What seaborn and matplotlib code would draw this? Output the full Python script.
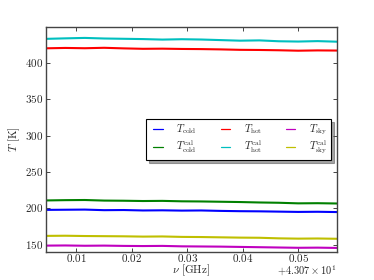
# -*- coding: utf-8 -*-
"""
Calibrated vs measured temperatures across the frequency band
"""

import numpy as np
import pandas as pd
import matplotlib
matplotlib.use("Agg")
import matplotlib.pyplot as plt
import seaborn as sns

# Frequency samples (GHz)
freq_ghz = [43.0745, 43.0780, 43.0815, 43.0850, 43.0885, 43.0920, 43.0955, 43.0990,
            43.1025, 43.1060, 43.1095, 43.1130, 43.1165, 43.1200, 43.1235, 43.1270]

# Temperatures (K)
t_cold = [198.0, 198.2, 198.4, 197.6, 197.8, 197.2, 197.4, 197.0,
          197.2, 196.6, 196.2, 196.0, 195.6, 195.2, 195.4, 195.0]
t_cold_cal = [211.0, 211.4, 211.6, 210.8, 210.6, 210.2, 210.4, 209.8,
              209.6, 209.2, 208.8, 208.2, 207.8, 207.0, 207.2, 206.8]
t_hot = [420.5, 421.0, 420.6, 421.2, 420.4, 419.8, 420.0, 419.6,
         419.4, 419.0, 418.4, 418.2, 417.8, 417.2, 417.6, 417.4]
t_hot_cal = [433.5, 434.2, 434.8, 434.0, 433.6, 433.2, 432.5, 433.0,
             432.6, 431.8, 431.0, 431.4, 430.2, 429.8, 430.4, 429.6]
t_sky = [148.8, 149.0, 148.6, 148.8, 148.4, 148.2, 148.4, 147.8,
         147.6, 147.4, 147.0, 146.6, 146.2, 145.8, 146.0, 145.6]
t_sky_cal = [162.2, 162.4, 162.0, 161.8, 161.6, 161.2, 161.4, 160.8,
             160.6, 160.2, 159.8, 159.6, 158.8, 158.4, 158.6, 158.2]

series_labels = [r"$T_{\rm cold}$", r"$T^{\rm cal}_{\rm cold}$",
                 r"$T_{\rm hot}$", r"$T^{\rm cal}_{\rm hot}$",
                 r"$T_{\rm sky}$", r"$T^{\rm cal}_{\rm sky}$"]
series_values = [t_cold, t_cold_cal, t_hot, t_hot_cal, t_sky, t_sky_cal]
series_colors = ["b", "g", "r", "c", "m", "y"]

freq_offset = 43.07

# Style: old-school matplotlib look with Computer Modern text
plt.style.use("classic")
sns.set_style("ticks", {"xtick.direction": "in", "ytick.direction": "in"})
plt.rcParams["font.family"] = ["serif"]
plt.rcParams["font.serif"] = ["cmr10", "DejaVu Serif"]
plt.rcParams["mathtext.fontset"] = "cm"
plt.rcParams["axes.formatter.use_mathtext"] = True
plt.rcParams["axes.unicode_minus"] = False
plt.rcParams["font.size"] = 8

fig, ax = plt.subplots(figsize=(3.74, 2.8), dpi=100)
fig.patch.set_facecolor("white")
fig.subplots_adjust(left=0.123, right=0.901, bottom=0.10, top=0.904)

for label, vals, col in zip(series_labels, series_values, series_colors):
    df = pd.DataFrame({"freq": freq_ghz, "temp": vals})
    sns.lineplot(data=df, x="freq", y="temp", color=col, lw=1.5, label=label, ax=ax)

ax.set_xlim(freq_ghz[0], freq_ghz[-1])
ax.set_ylim(140, 450)
ax.set_yticks([150, 200, 250, 300, 350, 400])
ax.set_xticks([43.08, 43.09, 43.10, 43.11, 43.12])
ax.ticklabel_format(axis="x", useOffset=freq_offset)
ax.tick_params(direction="in", top=True, right=True, labelsize=8, length=3, width=0.6, pad=2)
ax.tick_params(axis="x", pad=0)
for sp in ax.spines.values():
    sp.set_color("#444444")
    sp.set_linewidth(1.0)

ax.set_xlabel(r"$\nu$ [GHz]", fontsize=8, labelpad=-1)
ax.set_ylabel(r"$T$ [K]", fontsize=8, labelpad=2)

# offset label drawn by hand so it sits level with the x label
ax.xaxis.get_offset_text().set_visible(False)
ax.text(1.0, -0.055, r"$+4.307\times10^{1}$", transform=ax.transAxes,
        ha="right", va="top", fontsize=7.5)

handles, labels = ax.get_legend_handles_labels()
leg = ax.legend(handles, labels, ncol=3, loc="center right", bbox_to_anchor=(0.99, 0.5),
                fontsize=7.5, shadow=True, fancybox=False, frameon=True,
                handlelength=1.5, handletextpad=1.0, columnspacing=2.0,
                borderpad=0.35, labelspacing=0.2, borderaxespad=0.3)
leg.get_frame().set_edgecolor("black")
leg.get_frame().set_linewidth(0.8)
for line in leg.get_lines():
    line.set_linewidth(0.9)

plt.savefig("out.png", dpi=100)
